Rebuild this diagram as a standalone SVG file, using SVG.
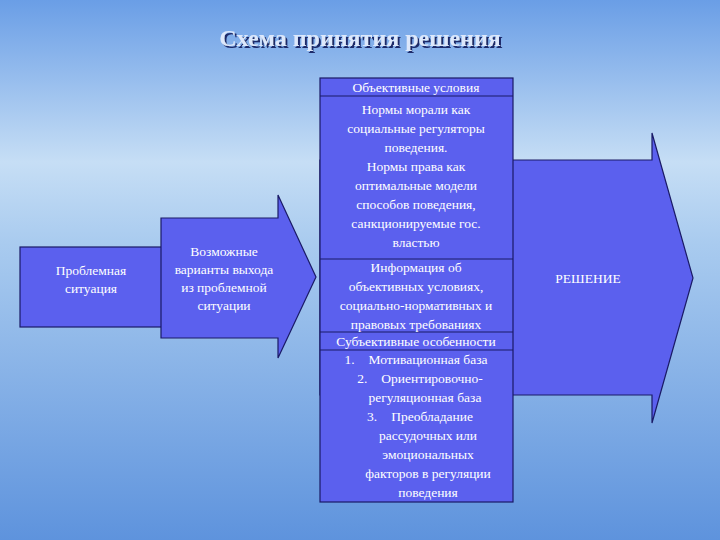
<svg xmlns="http://www.w3.org/2000/svg" width="720" height="540" viewBox="0 0 720 540">
<defs>
<linearGradient id="bg" x1="0" y1="0" x2="0" y2="1">
<stop offset="0" stop-color="#6a9ee6"/><stop offset="0.3" stop-color="#c6def5"/><stop offset="0.45" stop-color="#a9cbef"/><stop offset="1" stop-color="#5e93dd"/>
</linearGradient>
<filter id="sh" x="-10%" y="-30%" width="120%" height="160%"><feDropShadow dx="2" dy="2" stdDeviation="0.5" flood-color="#1f2a6a"/></filter>
<style>
.s{fill:#5b60ee;stroke:#1a1a66;stroke-width:1.2}
.t{font-family:"Liberation Serif",serif;font-size:13.5px;fill:#fff;text-anchor:middle}
</style>
</defs>
<rect width="720" height="540" fill="url(#bg)"/>
<text x="360" y="46" font-family="Liberation Serif,serif" font-size="24" font-weight="bold" fill="#dde8fb" text-anchor="middle" filter="url(#sh)">Схема принятия решения</text>
<g id="decision"><path class="s" d="M320 160H652V133L693 278L652 423V395H320Z"/><text class="t" x="588" y="283">РЕШЕНИЕ</text></g>
<g id="problem"><rect class="s" x="20" y="247" width="143" height="80"/><text class="t" x="91" y="275">Проблемная</text><text class="t" x="91" y="293">ситуация</text></g>
<g id="variants"><path class="s" d="M161 218H278V195L316 277L278 358V338H161Z"/>
<text class="t" x="224" y="256">Возможные</text><text class="t" x="224" y="274">варианты выхода</text><text class="t" x="224" y="292">из проблемной</text><text class="t" x="224" y="310">ситуации</text></g>
<g id="column">
<rect class="s" x="320" y="78" width="193" height="424"/>
<line class="s" x1="320" y1="96" x2="513" y2="96"/>
<line class="s" x1="320" y1="259" x2="513" y2="259"/>
<line class="s" x1="320" y1="332" x2="513" y2="332"/>
<line class="s" x1="320" y1="350" x2="513" y2="350"/>
<text class="t" x="416" y="92">Объективные условия</text>
<text class="t" x="416" y="114">Нормы морали как</text>
<text class="t" x="416" y="133">социальные регуляторы</text>
<text class="t" x="416" y="152">поведения.</text>
<text class="t" x="416" y="171">Нормы права как</text>
<text class="t" x="416" y="190">оптимальные модели</text>
<text class="t" x="416" y="209">способов поведения,</text>
<text class="t" x="416" y="228">санкционируемые гос.</text>
<text class="t" x="416" y="247">властью</text>
<text class="t" x="416" y="272">Информация об</text>
<text class="t" x="416" y="291">объективных условиях,</text>
<text class="t" x="416" y="310">социально-нормативных и</text>
<text class="t" x="416" y="329">правовых требованиях</text>
<text class="t" x="416" y="346">Субъективные особенности</text>
<text class="t" x="416" y="364">1.<tspan dx="14">Мотивационная база</tspan></text>
<text class="t" x="420" y="383">2.<tspan dx="14">Ориентировочно-</tspan></text>
<text class="t" x="425" y="402">регуляционная база</text>
<text class="t" x="420" y="421">3.<tspan dx="14">Преобладание</tspan></text>
<text class="t" x="428" y="440">рассудочных или</text>
<text class="t" x="428" y="459">эмоциональных</text>
<text class="t" x="428" y="478">факторов в регуляции</text>
<text class="t" x="428" y="497">поведения</text>
</g>
<g id="connectors"/>
</svg>
